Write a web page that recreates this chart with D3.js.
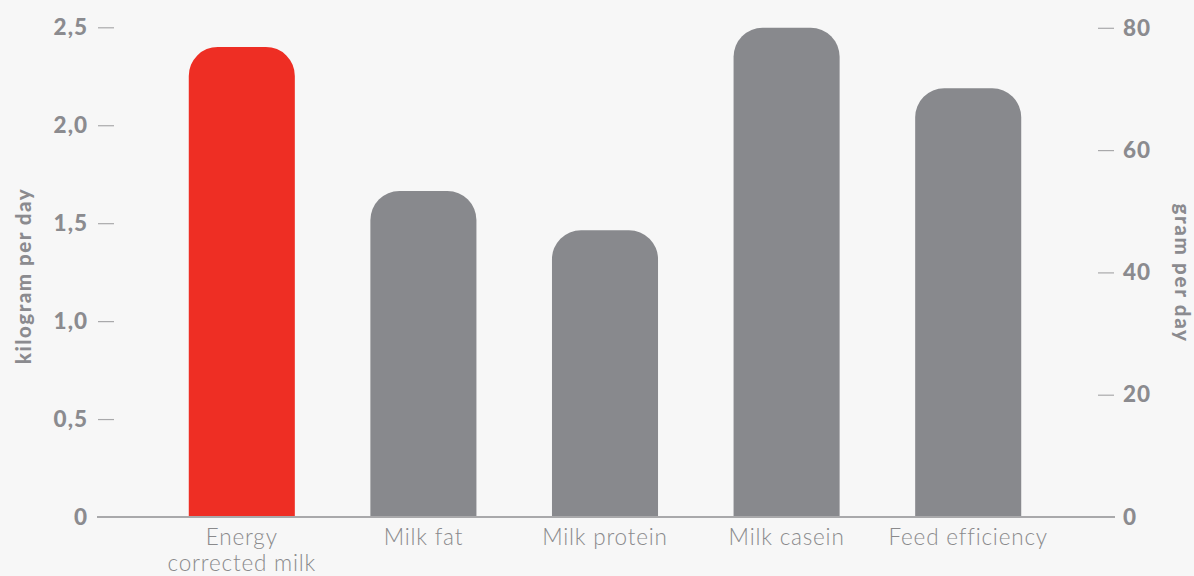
<!DOCTYPE html>
<html><head><meta charset="utf-8">
<script src="https://cdn.jsdelivr.net/npm/d3@7"></script>
<style>
html,body{margin:0;padding:0;background:#f7f7f7;}
svg{display:block;font-family:Lato, "Open Sans", sans-serif;}
</style></head><body>
<svg id="c" width="1194" height="576"></svg>
<script>
const categories = ["Energy corrected milk","Milk fat","Milk protein","Milk casein","Feed efficiency"];
const axisOf = ["left","right","right","right","right"];
const values = [2.40, 53.3, 46.9, 80, 70.1];
const leftTicks = [0,0.5,1.0,1.5,2.0,2.5];
const rightTicks = [0,20,40,60,80];
const leftTitle = "kilogram per day";
const rightTitle = "gram per day";

const svg = d3.select("#c");
const W=1194,H=576;
svg.append("rect").attr("width",W).attr("height",H).attr("fill","#f7f7f7");

const x = d3.scaleBand().domain(categories).range([151,1059]).paddingInner(0.416).paddingOuter(0.208);
const yL = d3.scaleLinear().domain([0,2.5]).range([517,27.3]);
const yR = d3.scaleLinear().domain([0,80]).range([517,27.8]);

const grey="#88898d", red="#ee2e24", txt="#8b8b8f";

const r=29;
function barPath(x0,w,yTop,yBase){
  const rr=Math.min(r,w/2,yBase-yTop);
  return `M${x0},${yBase}V${yTop+rr}A${rr},${rr} 0 0 1 ${x0+rr},${yTop}H${x0+w-rr}A${rr},${rr} 0 0 1 ${x0+w},${yTop+rr}V${yBase}Z`;
}
svg.append("g").selectAll("path").data(categories).join("path")
  .attr("d",(d,i)=>{const s=axisOf[i]==="left"?yL:yR;return barPath(x(d),x.bandwidth(),s(values[i]),s(0));})
  .attr("fill",(d,i)=>i===0?red:grey);

svg.append("line").attr("x1",97).attr("x2",1115).attr("y1",yL(0)).attr("y2",yL(0))
  .attr("stroke","#a9a9ab").attr("stroke-width",2);

const fmtL = d=> d===0?"0":d3.format(".1f")(d).replace(".",",");
const gl = svg.append("g").attr("transform","translate(114,0)")
  .call(d3.axisLeft(yL).tickValues(leftTicks).tickSize(16).tickPadding(10).tickFormat(fmtL));
gl.select(".domain").remove();
gl.selectAll(".tick line").attr("stroke","#a9a9ab").attr("stroke-width",1.2).filter(d=>d===0).remove();
gl.selectAll(".tick text").attr("fill",txt).attr("font-size",22.5).attr("font-weight",900)
  .attr("letter-spacing",1).attr("font-family","Lato, sans-serif");

const gr = svg.append("g").attr("transform","translate(1098,0)")
  .call(d3.axisRight(yR).tickValues(rightTicks).tickSize(16).tickPadding(9).tickFormat(d3.format("d")));
gr.select(".domain").remove();
gr.selectAll(".tick line").attr("stroke","#a9a9ab").attr("stroke-width",1.2).filter(d=>d===0).remove();
gr.selectAll(".tick text").attr("fill",txt).attr("font-size",22.5).attr("font-weight",900)
  .attr("letter-spacing",1).attr("font-family","Lato, sans-serif");

svg.append("text").attr("transform","translate(31,276) rotate(-90)").attr("text-anchor","middle")
  .attr("fill",txt).attr("font-size",20.5).attr("font-weight",900).attr("letter-spacing",1.5).text(leftTitle);
svg.append("text").attr("transform","translate(1175,273) rotate(90)").attr("text-anchor","middle")
  .attr("fill",txt).attr("font-size",20.5).attr("font-weight",900).attr("letter-spacing",1.7).text(rightTitle);

const lab = svg.append("g").selectAll("text").data(categories).join("text")
  .attr("x",d=>x(d)+x.bandwidth()/2).attr("y",545).attr("text-anchor","middle")
  .attr("fill","#8a8a8c").attr("font-size",22.5).attr("font-weight",300).attr("letter-spacing",0.8);
lab.each(function(d){
  const t=d3.select(this);
  const parts = d==="Energy corrected milk"?["Energy","corrected milk"]:[d];
  parts.forEach((p,i)=>t.append("tspan").attr("x",x(d)+x.bandwidth()/2).attr("dy",i===0?0:26).text(p));
});
</script>
</body></html>
